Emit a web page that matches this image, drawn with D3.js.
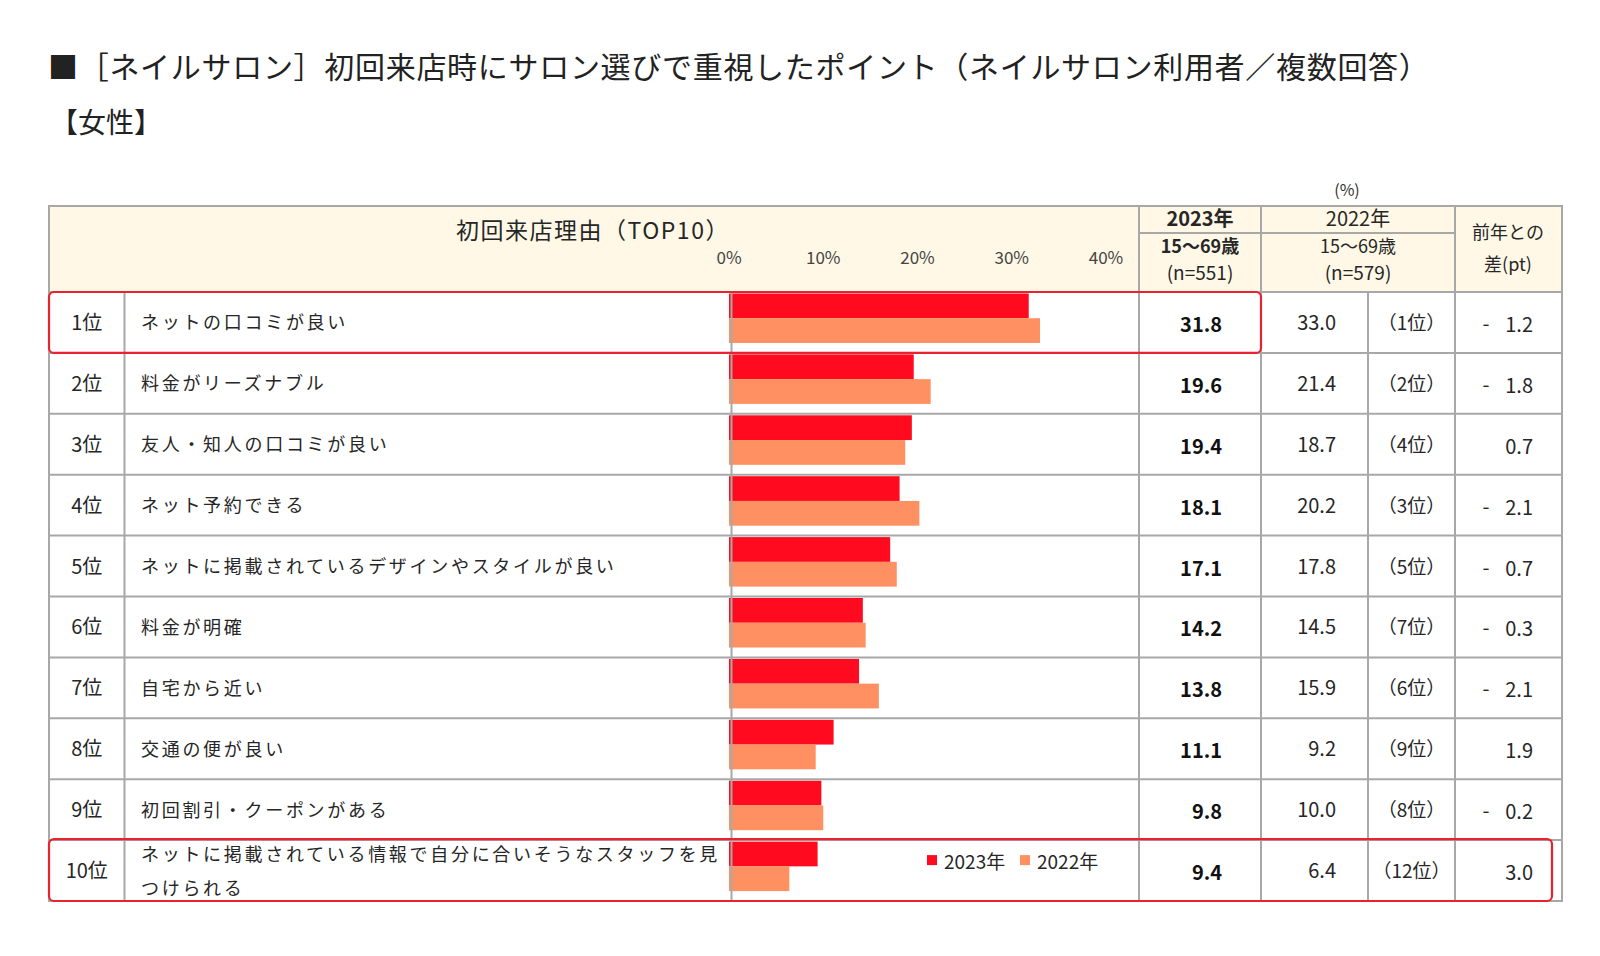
<!DOCTYPE html>
<html><head><meta charset="utf-8">
<script src="https://cdn.jsdelivr.net/npm/d3@7"></script>
<style>
html,body{margin:0;padding:0;background:#fff;}
svg{display:block;font-family:"Noto Sans CJK JP","Noto Sans",sans-serif;}
</style></head>
<body><svg id="c" width="1600" height="956"></svg>
<script>
const titleText = "■［ネイルサロン］初回来店時にサロン選びで重視したポイント（ネイルサロン利用者／複数回答）";
const subTitle = "【女性】";
const rankLabels = ["1位","2位","3位","4位","5位","6位","7位","8位","9位","10位"];
const categories = ["ネットの口コミが良い","料金がリーズナブル","友人・知人の口コミが良い","ネット予約できる","ネットに掲載されているデザインやスタイルが良い","料金が明確","自宅から近い","交通の便が良い","初回割引・クーポンがある","ネットに掲載されている情報で自分に合いそうなスタッフを見つけられる"];
const values2023 = [31.8,19.6,19.4,18.1,17.1,14.2,13.8,11.1,9.8,9.4];
const values2022 = [33.0,21.4,18.7,20.2,17.8,14.5,15.9,9.2,10.0,6.4];
const rank2022 = ["（1位）","（2位）","（4位）","（3位）","（5位）","（7位）","（6位）","（9位）","（8位）","（12位）"];
const diffs = [-1.2,-1.8,0.7,-2.1,-0.7,-0.3,-2.1,1.9,-0.2,3.0];
const tickValues = [0,10,20,30,40];
const seriesNames = ["2023年","2022年"];
const highlightRows = [0,9];

const svg = d3.select("#c");
const C = {red:"#FF0A1E", orange:"#FF9062", grid:"#A8A8A8", head:"#FFF8E6", text:"#262626", box:"#E8222E"};
const L = {left:49, rankR:124.5, zero:729, barR:1139, c23R:1261, c22mid:1368, c22R:1455, right:1562, top:206, headB:292, bottom:901};

// title
svg.append("text").attr("x",48).attr("y",65).attr("dominant-baseline","central")
  .attr("font-size",30).attr("letter-spacing",0.7).attr("fill","#222").text(titleText);
svg.append("text").attr("x",50).attr("y",121).attr("dominant-baseline","central")
  .attr("font-size",28).attr("fill","#222").text(subTitle);
svg.append("text").attr("x",1347).attr("y",189).attr("text-anchor","middle").attr("dominant-baseline","central")
  .attr("font-size",16).attr("fill","#333").text("(%)");

const x = d3.scaleLinear().domain([0,40]).range([L.zero, 1106]);
const y = d3.scaleBand().domain(d3.range(categories.length)).range([L.headB, L.bottom]);
const sub = d3.scaleBand().domain(seriesNames).range([1.5, 51]);

// header background
svg.append("rect").attr("x",L.left).attr("y",L.top).attr("width",L.right-L.left).attr("height",L.headB-L.top).attr("fill",C.head);

// rows
const rows = svg.append("g").selectAll("g").data(categories).join("g")
  .attr("transform",(d,i)=>`translate(0,${y(i)})`);

// axis line at 0 inside rows
svg.append("line").attr("x1",L.zero+2.5).attr("x2",L.zero+2.5).attr("y1",L.headB).attr("y2",L.bottom)
  .attr("stroke",C.grid).attr("stroke-width",2);

// bars
rows.append("rect").attr("x",x(0)).attr("y",sub("2023年")).attr("height",sub.bandwidth())
  .attr("width",(d,i)=>x(values2023[i])-x(0)).attr("fill",C.red);
rows.append("rect").attr("x",x(0)).attr("y",sub("2022年")).attr("height",sub.bandwidth())
  .attr("width",(d,i)=>x(values2022[i])-x(0)).attr("fill",C.orange);

const rh = y.bandwidth();
// rank labels
rows.append("text").attr("x",(L.left+L.rankR)/2).attr("y",rh/2-1).attr("text-anchor","middle")
  .attr("dominant-baseline","central").attr("font-size",20).attr("fill",C.text).text((d,i)=>rankLabels[i]);
// category labels with wrapping
rows.each(function(d,i){
  const g = d3.select(this);
  const t = g.append("text").attr("x",141).attr("font-size",18).attr("letter-spacing",2.7)
    .attr("fill",C.text).attr("dominant-baseline","central");
  const maxW = 585;
  const chars = Array.from(d);
  let lines=[], cur="";
  const probe = t.append("tspan");
  for(const ch of chars){
    probe.text(cur+ch);
    if(probe.node().getComputedTextLength()>maxW && cur.length){lines.push(cur); cur=ch;} else cur+=ch;
  }
  lines.push(cur); probe.remove();
  const lh = 34;
  const y0 = rh/2 - 1 - (lines.length-1)*lh/2;
  lines.forEach((ln,k)=>t.append("tspan").attr("x",141).attr("y",y0+k*lh).text(ln));
});
// 2023 values
rows.append("text").attr("x",1222).attr("y",rh/2+1).attr("text-anchor","end").attr("dominant-baseline","central")
  .attr("font-size",20).attr("font-weight","bold").attr("fill","#111").text((d,i)=>values2023[i].toFixed(1));
// 2022 values
rows.append("text").attr("x",1336).attr("y",rh/2-1).attr("text-anchor","end").attr("dominant-baseline","central")
  .attr("font-size",20).attr("fill",C.text).text((d,i)=>values2022[i].toFixed(1));
rows.append("text").attr("x",(L.c22mid+L.c22R)/2).attr("y",rh/2-1).attr("text-anchor","middle").attr("dominant-baseline","central")
  .attr("font-size",19).attr("fill",C.text).text((d,i)=>rank2022[i]);
// diffs
rows.append("text").attr("x",1486).attr("y",rh/2).attr("text-anchor","middle").attr("dominant-baseline","central")
  .attr("font-size",20).attr("fill",C.text).text((d,i)=>diffs[i]<0?"-":"");
rows.append("text").attr("x",1533).attr("y",rh/2+1).attr("text-anchor","end").attr("dominant-baseline","central")
  .attr("font-size",20).attr("fill",C.text).text((d,i)=>Math.abs(diffs[i]).toFixed(1));

// grid lines
const g = svg.append("g").attr("stroke",C.grid).attr("stroke-width",2).attr("fill","none");
y.domain().forEach(i=>{ if(i>0) g.append("line").attr("x1",L.left).attr("x2",L.right).attr("y1",y(i)).attr("y2",y(i)); });
g.append("line").attr("x1",L.left).attr("x2",L.right).attr("y1",L.headB).attr("y2",L.headB);
[L.rankR, L.c22mid].forEach(xx=>g.append("line").attr("x1",xx).attr("x2",xx).attr("y1",L.headB).attr("y2",L.bottom));
[L.barR, L.c23R, L.c22R].forEach(xx=>g.append("line").attr("x1",xx).attr("x2",xx).attr("y1",L.top).attr("y2",L.bottom));
g.append("line").attr("x1",L.barR).attr("x2",L.c22R).attr("y1",233).attr("y2",233);
g.append("rect").attr("x",L.left).attr("y",L.top).attr("width",L.right-L.left).attr("height",L.bottom-L.top);

// header texts
const ht = (tx,xx,yy,fs,fw,ls)=>svg.append("text").attr("x",xx).attr("y",yy).attr("text-anchor","middle")
  .attr("dominant-baseline","central").attr("font-size",fs).attr("font-weight",fw||"normal")
  .attr("letter-spacing",ls||0).attr("fill",C.text).text(tx);
ht("初回来店理由（TOP10）",593,229,23,"normal",1.5);
ht("2023年",1200,217,20,"bold");
ht("15～69歳",1200,245,18,"bold");
ht("(n=551)",1200,271,19);
ht("2022年",1358,217,20);
ht("15～69歳",1358,245,18);
ht("(n=579)",1358,271,19);
ht("前年との",1508,231,18);
ht("差(pt)",1508,263,18);

// x axis tick labels
svg.append("g").selectAll("text").data(tickValues).join("text")
  .attr("x",d=>x(d)).attr("y",256).attr("text-anchor","middle").attr("dominant-baseline","central")
  .attr("font-size",17).attr("fill","#444").text(d=>d+"%");

// highlight boxes
const hb = svg.append("g").attr("fill","none").attr("stroke",C.box).attr("stroke-width",2.2);
hb.append("rect").attr("x",L.left).attr("y",y(highlightRows[0])).attr("width",L.c23R-L.left).attr("height",rh).attr("rx",5);
hb.append("rect").attr("x",L.left).attr("y",y(highlightRows[1])-1).attr("width",1552-L.left).attr("height",rh+1).attr("rx",5);

// legend
const lg = svg.append("g").attr("transform",`translate(927,${y(9)+20})`);
seriesNames.forEach((s,k)=>{
  const gx = k*93;
  lg.append("rect").attr("x",gx).attr("y",-5).attr("width",10).attr("height",10).attr("fill",k?C.orange:C.red);
  lg.append("text").attr("x",gx+17).attr("y",0).attr("dominant-baseline","central").attr("font-size",19).attr("fill",C.text).text(s);
});
</script></body></html>
